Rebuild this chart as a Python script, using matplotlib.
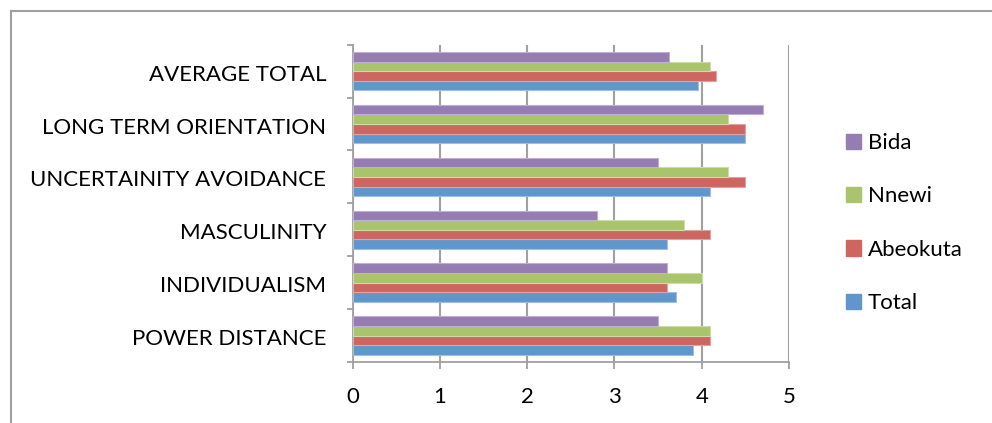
import matplotlib
matplotlib.use("Agg")
import matplotlib.pyplot as plt
import numpy as np
from matplotlib.lines import Line2D
from matplotlib.patches import Patch

plt.rcParams['font.family'] = ['Lato', 'DejaVu Sans']

categories = ["POWER DISTANCE", "INDIVIDUALISM", "MASCULINITY",
              "UNCERTAINITY AVOIDANCE", "LONG TERM ORIENTATION", "AVERAGE TOTAL"]
series_names = ["Total", "Abeokuta", "Nnewi", "Bida"]
total = [3.9, 3.7, 3.6, 4.1, 4.5, 3.96]
abeokuta = [4.1, 3.6, 4.1, 4.5, 4.5, 4.16]
nnewi = [4.1, 4.0, 3.8, 4.3, 4.3, 4.1]
bida = [3.5, 3.6, 2.8, 3.5, 4.7, 3.63]
x_ticks = [0, 1, 2, 3, 4, 5]

series_values = [total, abeokuta, nnewi, bida]
colors = ["#5F96CB", "#CD6560", "#A9C46B", "#957CB2"]
edge_colors = ["#9DBFE0", "#E2A3A0", "#CCDDAA", "#C0AFD3"]

FS = 16
TXT = "#000000"

W, H = 992, 423
fig = plt.figure(figsize=(W / 100, H / 100), dpi=100)
ax = fig.add_axes([352.7 / W, 1 - 362 / H, (789 - 352.7) / W, (362 - 44.7) / H])

n = len(series_names)
group = 4 / 5.5
bar_h = group / n
y = np.arange(len(categories))
for i, (vals, c, ec) in enumerate(zip(series_values, colors, edge_colors)):
    offs = -group / 2 + bar_h * (i + 0.5)
    ax.barh(y + offs, vals, height=bar_h, color=c, edgecolor=ec,
            linewidth=0.8, label=series_names[i], zorder=3)

ax.set_xlim(0, 5)
ax.set_ylim(-0.5, len(categories) - 0.5)
ax.set_xticks(x_ticks)
ax.set_xticklabels([str(t) for t in x_ticks], fontsize=FS, color=TXT)
ax.set_yticks(np.arange(len(categories) + 1) - 0.5)
ax.set_yticklabels([])
ax.set_yticks(y - 0.03, minor=True)
ax.set_yticklabels(categories, minor=True, fontsize=FS, color=TXT)
ax.tick_params(axis='y', which='minor', length=0, pad=19)
ax.tick_params(axis='y', which='major', length=4, width=1.3, color="#A0A0A0")
ax.tick_params(axis='x', length=5, width=1.3, color="#A0A0A0", pad=13)

ax.grid(axis='x', color="#A0A0A0", linewidth=1.5, zorder=0)
for s in ['top', 'right']:
    ax.spines[s].set_visible(False)
for s in ['left', 'bottom']:
    ax.spines[s].set_color("#A0A0A0")
    ax.spines[s].set_linewidth(1.3)

handles = [Patch(facecolor=colors[i], edgecolor=colors[i]) for i in range(n - 1, -1, -1)]
labels = [series_names[i] for i in range(n - 1, -1, -1)]
leg = fig.legend(handles, labels, loc='center left', bbox_to_anchor=(837 / W, 1 - 223 / H),
                 frameon=False, fontsize=FS, handlelength=0.68, handleheight=0.68,
                 handletextpad=0.3, labelspacing=1.5, borderaxespad=0)
for t in leg.get_texts():
    t.set_color(TXT)

# chart-area frame
fx, fy = 11 / W, 1 - 11 / H
fig.add_artist(Line2D([fx, fx], [0, fy], color="#A0A0A0", linewidth=1.5))
fig.add_artist(Line2D([fx, 1], [fy, fy], color="#A0A0A0", linewidth=1.5))

fig.savefig("out.png", dpi=100)
